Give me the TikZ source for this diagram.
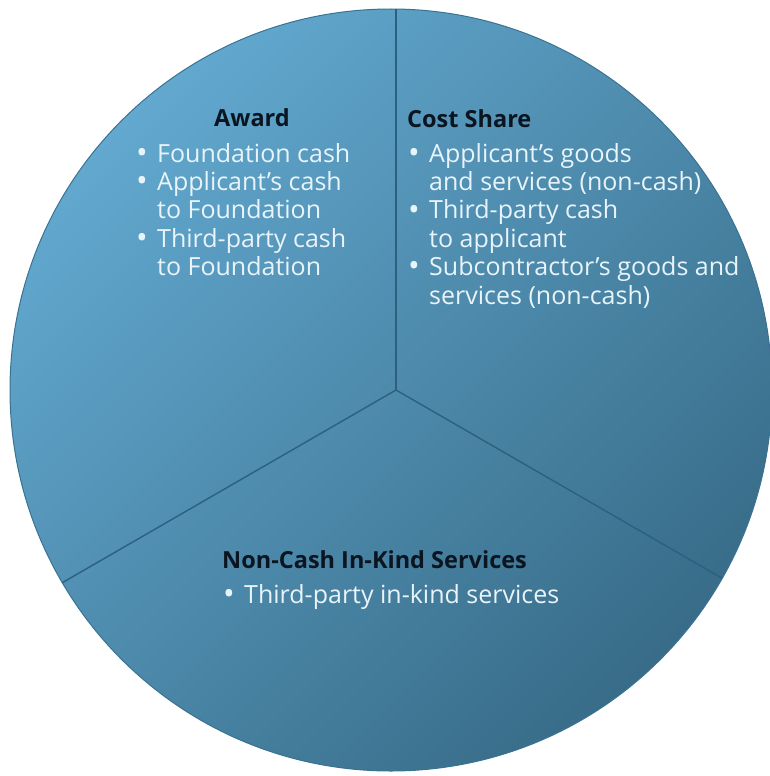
\documentclass[tikz,border=0pt]{standalone}
\usepackage{fontspec}
\setmainfont{Open Sans}
\definecolor{pielight}{HTML}{62A8CF}
\definecolor{piedark}{HTML}{386C88}
\definecolor{pieedge}{HTML}{3A7392}
\definecolor{pieline}{HTML}{2B6080}
\definecolor{headink}{HTML}{0A1520}
\definecolor{itemink}{HTML}{E8F4FA}
\tikzset{
  pieline/.style={draw=pieline, line width=1.4pt},
  headtext/.style={font=\fontsize{23.5}{28}\selectfont\bfseries, text=headink, inner sep=0pt},
  itemtext/.style={font=\fontsize{25}{28.4}\selectfont, text=itemink, inner sep=0pt},
}
% bullet column and hanging indent for the item lists
\newcommand{\itm}{\makebox[21pt][l]{\raisebox{-1.2pt}{\fontsize{31}{31}\selectfont•}}}
\newcommand{\cnt}{\hspace*{21pt}}
\newenvironment{itemlines}{\begin{tabular}[t]{@{}l@{}}}{\end{tabular}}
\begin{document}
\begin{tikzpicture}[x=1pt,y=-1pt]
  \path[use as bounding box] (0,0) rectangle (769,776);
  % the disc with its diagonal shading
  \coordinate (c) at (391,390);
  \shade[top color=pielight, bottom color=piedark, shading angle=45]
    (c) circle[radius=381];
  \draw[pieedge, line width=1pt] (c) circle[radius=381];
  % the three sector dividers
  \coordinate (j) at (396,390);
  \coordinate (top) at (396,9);
  \coordinate (lft) at (62.3,582.7);
  \coordinate (rgt) at (722.2,578.3);
  \draw[pieline] (j) -- (top);
  \draw[pieline] (j) -- (lft);
  \draw[pieline] (j) -- (rgt);
  % Award sector
  \node[headtext, anchor=base] (awardhead) at (252,126) {Award};
  \node[itemtext, anchor=base west] (awardlist) at (136,162) {%
    \begin{itemlines}
    \itm Foundation cash\\
    \itm Applicant’s cash\\
    \cnt to Foundation\\
    \itm Third-party cash\\
    \cnt to Foundation
    \end{itemlines}};
  % Cost Share sector
  \node[headtext, anchor=base west] (costhead) at (407,127) {Cost Share};
  \node[itemtext, anchor=base west] (costlist) at (408,162) {%
    \begin{itemlines}
    \itm Applicant’s goods\\
    \cnt and services (non-cash)\\
    \itm Third-party cash\\
    \cnt to applicant\\
    \itm Subcontractor’s goods and\\
    \cnt services (non-cash)
    \end{itemlines}};
  % Non-cash sector
  \node[headtext, anchor=base west] (nchead) at (222,568) {Non-Cash In-Kind Services};
  \node[itemtext, anchor=base west] (nclist) at (223,603) {%
    \begin{itemlines}
    \itm Third-party in-kind services
    \end{itemlines}};
\end{tikzpicture}
\end{document}
